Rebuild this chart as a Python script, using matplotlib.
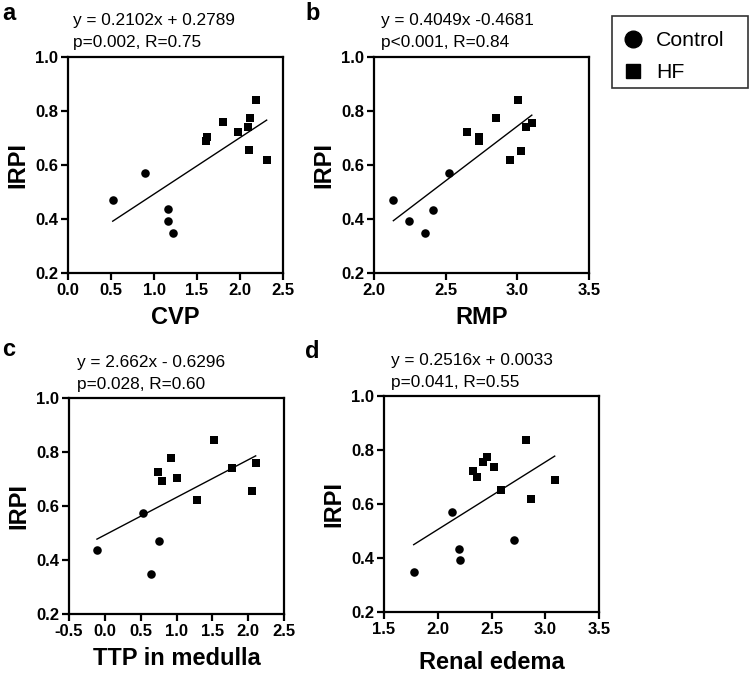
import matplotlib
matplotlib.use('Agg')
import matplotlib.pyplot as plt
from matplotlib.lines import Line2D
from matplotlib.patches import Rectangle
import numpy as np

plt.rcParams['font.family'] = ['Liberation Sans', 'DejaVu Sans']

# panel a: CVP
a_ctrl_x = [0.52, 0.90, 1.16, 1.16, 1.22]
a_ctrl_y = [0.470, 0.572, 0.437, 0.393, 0.350]
a_hf_x = [1.60, 1.62, 1.80, 1.98, 2.09, 2.12, 2.19, 2.10, 2.31]
a_hf_y = [0.690, 0.704, 0.759, 0.723, 0.739, 0.775, 0.839, 0.656, 0.619]

# panel b: RMP
b_ctrl_x = [2.135, 2.246, 2.358, 2.413, 2.522]
b_ctrl_y = [0.469, 0.392, 0.347, 0.435, 0.570]
b_hf_x = [2.648, 2.731, 2.731, 2.850, 3.008, 2.952, 3.024, 3.061, 3.101]
b_hf_y = [0.723, 0.703, 0.689, 0.773, 0.839, 0.617, 0.653, 0.739, 0.756]

# panel c: TTP in medulla
c_ctrl_x = [-0.11, 0.53, 0.75, 0.64]
c_ctrl_y = [0.437, 0.573, 0.471, 0.349]
c_hf_x = [0.744, 0.795, 0.926, 1.00, 1.28, 1.53, 1.78, 2.05, 2.105]
c_hf_y = [0.726, 0.693, 0.777, 0.705, 0.621, 0.844, 0.742, 0.657, 0.761]

# panel d: renal edema
d_ctrl_x = [1.776, 2.132, 2.197, 2.206, 2.707]
d_ctrl_y = [0.347, 0.570, 0.435, 0.391, 0.468]
d_hf_x = [2.330, 2.367, 2.419, 2.460, 2.525, 2.584, 2.825, 2.871, 3.088]
d_hf_y = [0.722, 0.701, 0.757, 0.774, 0.737, 0.653, 0.837, 0.617, 0.688]

panels = [
    ('a', 'CVP', a_ctrl_x, a_ctrl_y, a_hf_x, a_hf_y, (0.0, 2.5),
     'y = 0.2102x + 0.2789', 'p=0.002, R=0.75'),
    ('b', 'RMP', b_ctrl_x, b_ctrl_y, b_hf_x, b_hf_y, (2.0, 3.5),
     'y = 0.4049x -0.4681', 'p<0.001, R=0.84'),
    ('c', 'TTP in medulla', c_ctrl_x, c_ctrl_y, c_hf_x, c_hf_y, (-0.5, 2.5),
     'y = 2.662x - 0.6296', 'p=0.028, R=0.60'),
    ('d', 'Renal edema', d_ctrl_x, d_ctrl_y, d_hf_x, d_hf_y, (1.5, 3.5),
     'y = 0.2516x + 0.0033', 'p=0.041, R=0.55'),
]

W, H = 751, 673
fig = plt.figure(figsize=(W / 100, H / 100), dpi=100)

# axes boxes in pixels: left, top, right, bottom
boxes = [(68, 57, 283, 273), (374, 57, 589, 273), (69, 398, 284, 614), (384, 396, 599, 612)]
letter_pos = [(2, 14), (305, 14), (2, 350), (305, 351)]
eq_pos = [(73, 20), (381, 20), (77, 362), (391, 360)]
xlabel_pad = [6, 6, 6, 10]

for i, (letter, xlab, cx, cy, hx, hy, xlim, eq1, eq2) in enumerate(panels):
    l, t, r, b = boxes[i]
    ax = fig.add_axes([l / W, 1 - b / H, (r - l) / W, (b - t) / H])
    ax.scatter(cx, cy, marker='o', s=38, color='black', linewidths=0, zorder=3)
    ax.scatter(hx, hy, marker='s', s=40, color='black', linewidths=0, zorder=3)
    allx = np.array(cx + hx)
    ally = np.array(cy + hy)
    k, c0 = np.polyfit(allx, ally, 1)
    xs = np.array([allx.min(), allx.max()])
    ax.plot(xs, k * xs + c0, color='black', lw=1.0)
    ax.set_xlim(xlim)
    ax.set_ylim(0.2, 1.0)
    ax.set_xticks(np.arange(xlim[0], xlim[1] + 0.01, 0.5))
    ax.set_yticks([0.2, 0.4, 0.6, 0.8, 1.0])
    ax.xaxis.set_major_formatter(plt.FormatStrFormatter('%.1f'))
    ax.yaxis.set_major_formatter(plt.FormatStrFormatter('%.1f'))
    for sp in ax.spines.values():
        sp.set_linewidth(1.6)
    ax.tick_params(width=1.6, length=5, labelsize=12, pad=2)
    for lab in ax.get_xticklabels() + ax.get_yticklabels():
        lab.set_fontweight('bold')
    ax.set_xlabel(xlab, fontsize=17, fontweight='bold', labelpad=xlabel_pad[i])
    ax.set_ylabel('IRPI', fontsize=17, fontweight='bold', labelpad=4)
    fig.text(letter_pos[i][0] / W, 1 - letter_pos[i][1] / H, letter,
             fontsize=17, fontweight='bold', va='center', ha='left')
    fig.text(eq_pos[i][0] / W, 1 - eq_pos[i][1] / H, eq1, fontsize=12.4, va='center', ha='left')
    fig.text(eq_pos[i][0] / W, 1 - (eq_pos[i][1] + 22) / H, eq2, fontsize=12.4, va='center', ha='left')

handles = [Line2D([], [], marker='o', ls='none', color='black', markersize=12),
           Line2D([], [], marker='s', ls='none', color='black', markersize=9.5)]
leg = fig.legend(handles, ['Control', 'HF'], loc='upper left',
                 bbox_to_anchor=(620 / W, 1 - 31 / H), fontsize=15.3,
                 frameon=False, handletextpad=0.5, borderpad=0,
                 labelspacing=0.62, handlelength=1.2, borderaxespad=0)
fig.patches.append(Rectangle((612 / W, 1 - 88 / H), 136 / W, 72 / H,
                             transform=fig.transFigure, fill=False,
                             edgecolor='#333333', linewidth=1.2))

fig.savefig('out.png', dpi=100)
